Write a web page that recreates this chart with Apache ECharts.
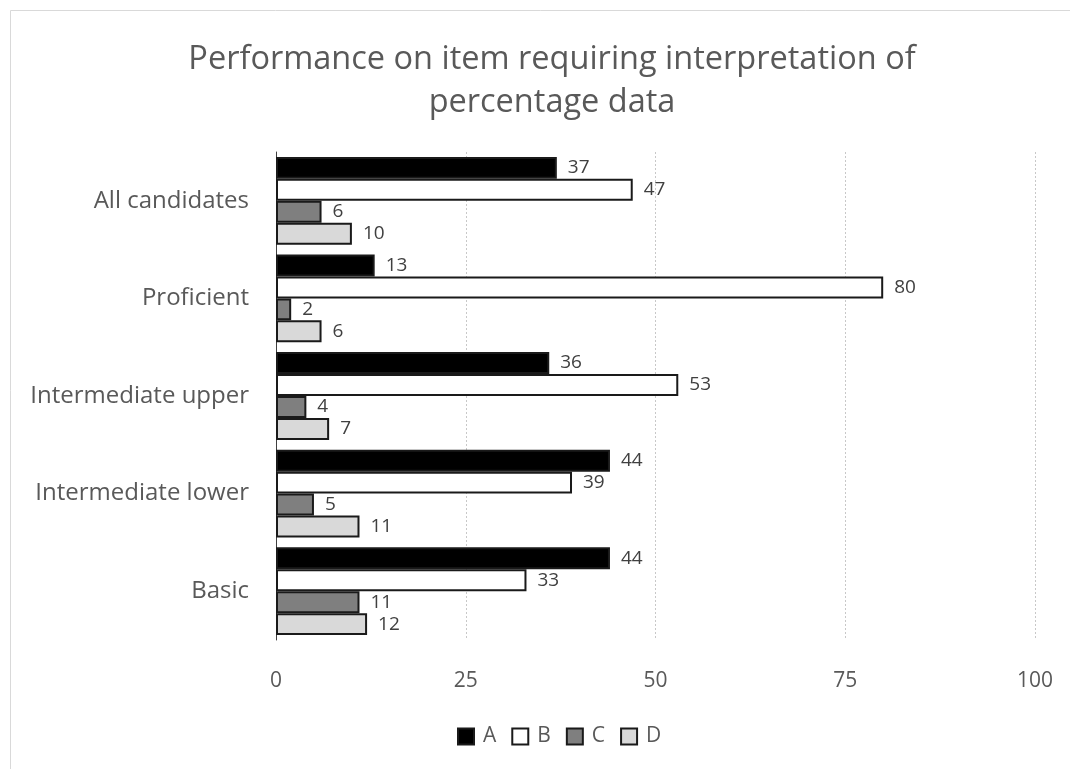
<!DOCTYPE html>
<html><head><meta charset="utf-8">
<script src="https://cdn.jsdelivr.net/npm/echarts@6/dist/echarts.min.js"></script>
<style>html,body{margin:0;padding:0;background:#fff}#c{width:1070px;height:769px}</style>
</head><body><div id="c"></div>
<script>
var categories = ["All candidates", "Proficient", "Intermediate upper", "Intermediate lower", "Basic"];
var seriesNames = ["A", "B", "C", "D"];
var valuesA = [37, 13, 36, 44, 44];
var valuesB = [47, 80, 53, 39, 33];
var valuesC = [6, 2, 4, 5, 11];
var valuesD = [10, 6, 7, 11, 12];
var xTicks = [0, 25, 50, 75, 100];

var FONT = "'Open Sans', 'Noto Sans', sans-serif";
var fills = ["#000000", "#ffffff", "#7f7f7f", "#d9d9d9"];
var allValues = [valuesA, valuesB, valuesC, valuesD];

var chart = echarts.init(document.getElementById('c'));
chart.setOption({
  animation: false,
  backgroundColor: '#fff',
  textStyle: { fontFamily: FONT },
  title: {
    text: "Performance on item requiring interpretation of\npercentage data",
    left: 547, textAlign: 'center', top: 33,
    textStyle: { fontFamily: FONT, fontSize: 32.5, fontWeight: 'normal', color: '#595959', lineHeight: 43 }
  },
  legend: {
    bottom: 17, left: 452,
    itemWidth: 16, itemHeight: 16, itemGap: 15, icon: 'rect',
    itemStyle: { borderColor: '#1a1a1a', borderWidth: 2 },
    textStyle: { fontFamily: FONT, fontSize: 21, color: '#595959', padding: [0, 0, 0, 4] },
    data: seriesNames
  },
  graphic: [{
    type: 'rect', shape: { x: 10.5, y: 10.5, width: 1100, height: 800 },
    style: { fill: 'none', stroke: '#d9d9d9', lineWidth: 1 }, silent: true
  }],
  grid: { left: 276, right: 35, top: 152, bottom: 129, containLabel: false },
  xAxis: {
    type: 'value', min: xTicks[0], max: xTicks[xTicks.length - 1], interval: 25,
    axisLine: { show: false }, axisTick: { show: false },
    axisLabel: { fontFamily: FONT, fontSize: 21, color: '#595959', margin: 31 },
    splitLine: { show: true, lineStyle: { color: '#c8c8c8', type: [2, 2], width: 1 } }
  },
  yAxis: {
    type: 'category', data: categories, inverse: true,
    axisLine: { show: true, lineStyle: { color: '#404040', width: 1 } },
    axisTick: { show: false },
    axisLabel: { fontFamily: FONT, fontSize: 24, color: '#595959', margin: 27 }
  },
  series: seriesNames.map(function (n, i) {
    return {
      name: n, type: 'bar', data: allValues[i],
      barGap: '0%', barCategoryGap: '10%',
      itemStyle: { color: fills[i], borderColor: '#1a1a1a', borderWidth: 2 },
      label: { show: true, position: 'right', distance: 11, fontFamily: FONT, fontSize: 19, color: '#404040' }
    };
  })
});
</script></body></html>
